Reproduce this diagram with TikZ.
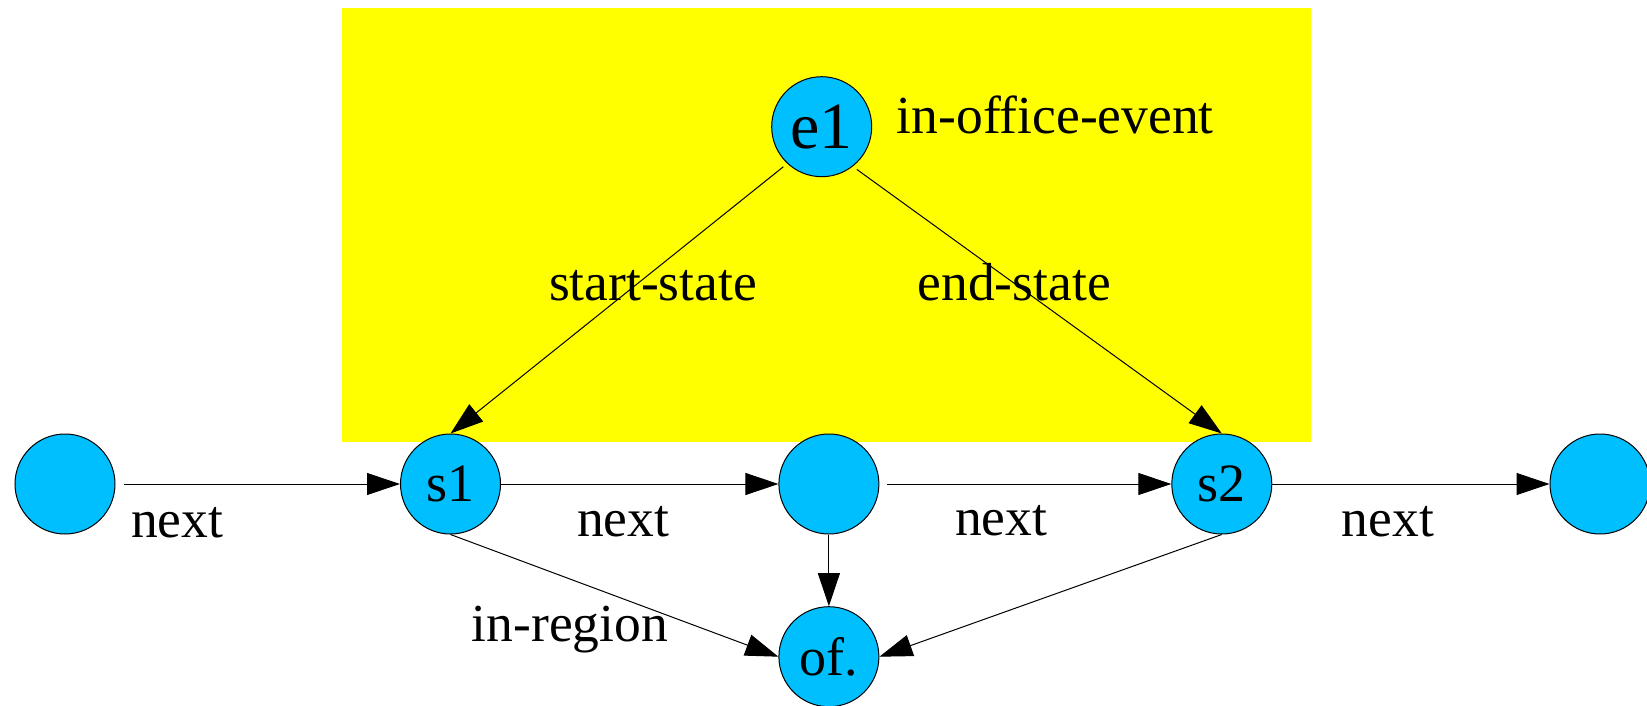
\documentclass[tikz,border=0pt]{standalone}
\usepackage{fontspec}
\setmainfont{Liberation Serif}
\usetikzlibrary{arrows.meta}
\definecolor{statefill}{HTML}{00BFFF}
\definecolor{regionfill}{HTML}{FFFF00}
\begin{document}
\begin{tikzpicture}[x=1pt,y=-1pt,
  state/.style={circle,draw=black,line width=1pt,fill=statefill,
    minimum size=100pt,inner sep=0pt,font=\fontsize{54}{60}\selectfont},
  eventstate/.style={state,font=\fontsize{66}{72}\selectfont},
  edgelabel/.style={anchor=base west,inner sep=0pt,
    font=\fontsize{53.5}{60}\selectfont},
  link/.style={draw=black,line width=1pt,
    -{Triangle[length=33pt,width=22pt]}}]
\useasboundingbox (0,0) rectangle (1647,706);

% region of the in-office event
\fill[regionfill] (342.4,8.4) rectangle (1310.5,441.7);

% states along the timeline
\node[state] (n0)  at (65,484) {};
\node[state] (s1)  at (450.5,484) {s1};
\node[state] (mid) at (828.9,484) {};
\node[state] (s2)  at (1221.8,484) {s2};
\node[state] (n4)  at (1600,484) {};

% event and office
\node[eventstate] (e1) at (821.7,126.7) {e1};
\node[state] (of) at (828.9,656.7) {of.};

% labels
\node[edgelabel] (lev)  at (896.7,134) {in-office-event};
\node[edgelabel] (lss)  at (548.8,300) {start-state};
\node[edgelabel] (les)  at (917.5,300) {end-state};
\node[edgelabel] (ln1)  at (131,537) {next};
\node[edgelabel] (ln2)  at (577,536) {next};
\node[edgelabel] (ln3)  at (955,535.5) {next};
\node[edgelabel] (ln4)  at (1341.7,536.5) {next};
\node[edgelabel] (lreg) at (471.7,641.7) {in-region};

% connectors
\draw[link,shorten <=8pt] (n0) -- (s1);
\draw[link] (s1) -- (mid);
\draw[link,shorten <=8pt] (mid) -- (s2);
\draw[link] (s2) -- (n4);
\draw[link,shorten <=5pt] (e1.227) -- (s1.north);
\draw[link,shorten <=5pt] (e1.308) -- (s2.north);
\draw[link] (s1.south) -- (of.west);
\draw[link] (mid) -- (of);
\draw[link] (s2.south) -- (of.east);
\end{tikzpicture}
\end{document}
